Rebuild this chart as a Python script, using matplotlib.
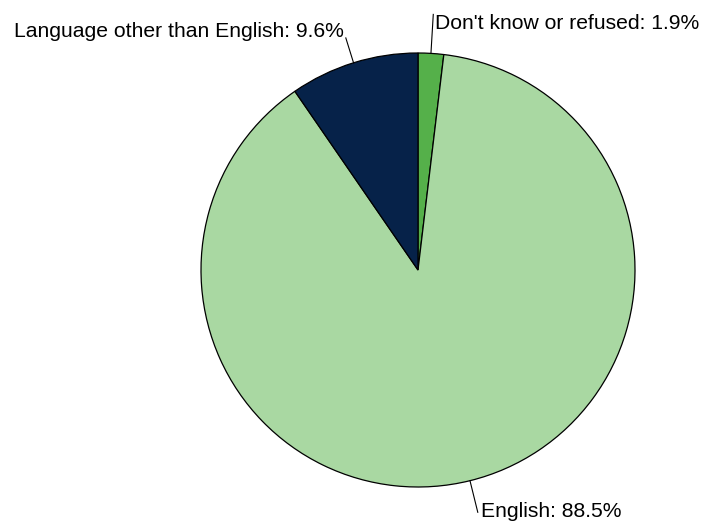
import numpy as np
import matplotlib
matplotlib.use("Agg")
import matplotlib.pyplot as plt

plt.rcParams['font.family'] = ['Liberation Sans', 'DejaVu Sans']

labels = ["Don't know or refused", "English", "Language other than English"]
values = [1.9, 88.5, 9.6]
colors = ["#55b04a", "#a9d8a2", "#062249"]

# style: leader outer radius factor, text alignment and offsets (px)
leader_r = [1.18, 1.15, 1.12]
ha_list = ["left", "left", "right"]
dx_list = [2, 3, -2]
dy_list = [-15, -5, 1]

W, H = 702, 527
fig = plt.figure(figsize=(W / 100, H / 100), dpi=100)
ax = fig.add_axes([0, 0, 1, 1])
ax.axis("off")

cx, cy, R = 418, H - 270, 217
wedges, _ = ax.pie(values, colors=colors, startangle=90, counterclock=False,
                   center=(cx, cy), radius=R,
                   wedgeprops=dict(edgecolor="black", linewidth=0.9))
ax.set_xlim(0, W)
ax.set_ylim(0, H)
ax.set_aspect("equal")

for w, lab, v, rf, ha, dx, dy in zip(wedges, labels, values, leader_r,
                                     ha_list, dx_list, dy_list):
    ang = np.deg2rad((w.theta1 + w.theta2) / 2)
    x0, y0 = cx + R * np.cos(ang), cy + R * np.sin(ang)
    x1, y1 = cx + R * rf * np.cos(ang), cy + R * rf * np.sin(ang)
    ax.plot([x0, x1], [y0, y1], color="black", lw=0.8)
    ax.text(x1 + dx, y1 + dy, f"{lab}: {v}%", ha=ha, va="baseline",
            fontsize=15.2)

fig.savefig("out.png", dpi=100)
